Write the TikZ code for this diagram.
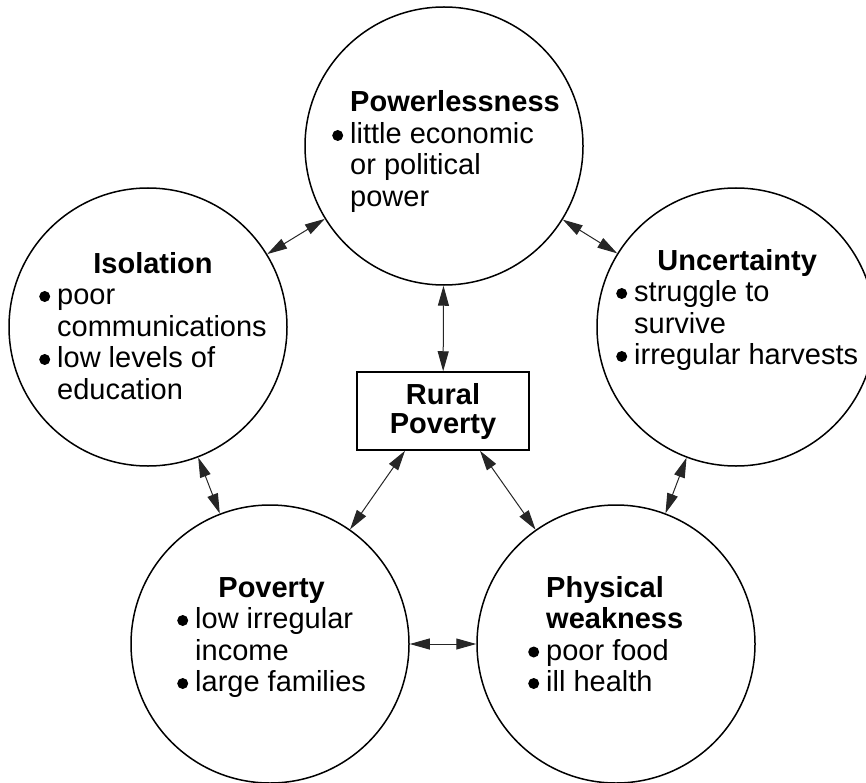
\documentclass[tikz,border=0pt]{standalone}
\usepackage{fontspec}
\setmainfont{Liberation Sans}
\usetikzlibrary{arrows.meta,positioning}
\newcommand{\blt}{\tikz[baseline=0pt]\fill (0pt,8pt) circle (5.5pt);}
\tikzset{
  factor/.style={circle, draw=black, line width=1.5pt,
                 minimum size=278pt, inner sep=0pt},
  corebox/.style={rectangle, draw=black, line width=1.5pt,
                  minimum width=172pt, minimum height=78pt, inner sep=0pt,
                  align=center, font=\fontsize{29pt}{29pt}\selectfont\bfseries},
  factxt/.style={anchor=base west, inner sep=0pt,
                 font=\fontsize{29pt}{31.5pt}\selectfont},
  link/.style={{Triangle[length=20pt,width=11pt]}-{Triangle[length=20pt,width=11pt]},
               line width=1pt, draw=black!85},
}

\begin{document}
\begin{tikzpicture}[x=1pt, y=-1pt]
  \useasboundingbox (0,0) rectangle (866,783);
  % the five circles and the box in the middle
  \node[factor] (power) at (444,146) {};
  \node[factor] (isol)  at (148,327) {};
  \node[factor] (unc)   at (736,327) {};
  \node[factor] (pov)   at (270,644) {};
  \node[factor] (weak)  at (616,644) {};
  \node[corebox] (core) at (443,411) {Rural\\Poverty};
  % texts
  \node[factxt] (powertxt) at (332,112) {\begin{tabular}[t]{@{}l@{\hspace{7pt}}l@{}}
      & \textbf{Powerlessness}\\
      \blt & little economic\\
      & or political\\
      & power\end{tabular}};
  \node[factxt] (isoltxt) at (39,273) {\begin{tabular}[t]{@{}l@{\hspace{7pt}}l@{}}
      \multicolumn{2}{c}{\textbf{Isolation}}\\
      \blt & poor\\
      & communications\\
      \blt & low levels of\\
      & education\end{tabular}};
  \node[factxt] (unctxt) at (616,270) {\begin{tabular}[t]{@{}l@{\hspace{7pt}}l@{}}
      \multicolumn{2}{c}{\textbf{Uncertainty}}\\
      \blt & struggle to\\
      & survive\\
      \blt & irregular harvests\end{tabular}};
  \node[factxt] (povtxt) at (177,597) {\begin{tabular}[t]{@{}l@{\hspace{7pt}}l@{}}
      \multicolumn{2}{c}{\textbf{Poverty}}\\
      \blt & low irregular\\
      & income\\
      \blt & large families\end{tabular}};
  \node[factxt] (weaktxt) at (528,597) {\begin{tabular}[t]{@{}l@{\hspace{7pt}}l@{}}
      & \textbf{Physical}\\
      & \textbf{weakness}\\
      \blt & poor food\\
      \blt & ill health\end{tabular}};
  % two-way links
  \draw[link] (power) -- (isol);
  \draw[link] (power) -- (unc);
  \draw[link] (power) -- (core);
  \draw[link] (isol)  -- (pov);
  \draw[link] (unc)   -- (weak);
  \draw[link] (pov)   -- (weak);
  \draw[link] ([xshift=-38pt]core.south) -- (pov);
  \draw[link] ([xshift=37pt]core.south)  -- (weak);
\end{tikzpicture}
\end{document}
